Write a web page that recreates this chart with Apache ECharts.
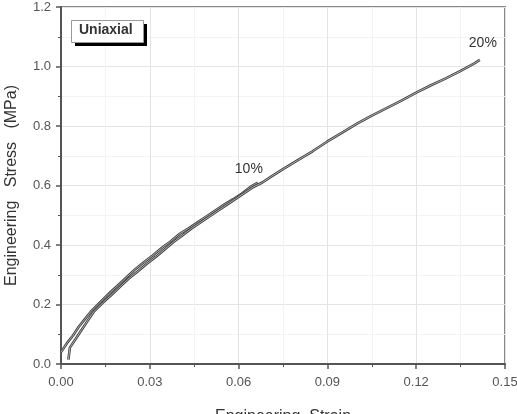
<!DOCTYPE html>
<html>
<head>
<meta charset="utf-8">
<script src="https://cdn.jsdelivr.net/npm/echarts@6/dist/echarts.min.js"></script>
<style>
  html, body { margin: 0; padding: 0; background: #fff; }
  #chart { width: 517px; height: 414px; }
</style>
</head>
<body>
<div id="chart"></div>
<script>
// strain / stress pairs
const load10 = [
    [0, 0.04], [0.002, 0.07], [0.004, 0.095], [0.006, 0.125], [0.008, 0.15],
    [0.010, 0.175], [0.013, 0.205], [0.016, 0.235], [0.019, 0.262], [0.022, 0.29],
    [0.025, 0.318], [0.028, 0.342], [0.031, 0.365], [0.034, 0.39], [0.037, 0.412],
    [0.040, 0.437], [0.043, 0.455], [0.046, 0.475], [0.049, 0.495], [0.052, 0.515],
    [0.055, 0.535], [0.058, 0.553], [0.061, 0.572], [0.064, 0.595], [0.0665, 0.61]
]
const load20 = [
    [0.0025, 0.015], [0.003, 0.055], [0.005, 0.085], [0.007, 0.115], [0.009, 0.145],
    [0.011, 0.175], [0.014, 0.205], [0.017, 0.232], [0.020, 0.26], [0.023, 0.288],
    [0.026, 0.312], [0.029, 0.337], [0.032, 0.36], [0.035, 0.385], [0.038, 0.41],
    [0.041, 0.432], [0.044, 0.455], [0.047, 0.475], [0.050, 0.495], [0.053, 0.515],
    [0.056, 0.535], [0.059, 0.555], [0.062, 0.575], [0.065, 0.595], [0.068, 0.61],
    [0.071, 0.63], [0.075, 0.655], [0.080, 0.685], [0.085, 0.715], [0.090, 0.748],
    [0.095, 0.778], [0.100, 0.808], [0.105, 0.835], [0.110, 0.86], [0.115, 0.885],
    [0.120, 0.912], [0.125, 0.937], [0.130, 0.96], [0.135, 0.985], [0.1395, 1.01],
    [0.1415, 1.022]
]
const curveLabels = ['10%', '20%']

const font = 'Liberation Sans'
const chart = echarts.init(document.getElementById('chart'))

function curve(data, label, offset) {
    const last = data[data.length - 1]
    return [{
        type: 'line',
        data: data,
        showSymbol: false,
        animation: false,
        lineStyle: { color: '#444', width: 2.6 },
        markPoint: {
            symbol: 'circle',
            symbolSize: 1,
            itemStyle: { color: 'rgba(0,0,0,0)' },
            data: [{ coord: last }],
            label: {
                show: true, formatter: label, position: 'top',
                offset: offset,
                fontFamily: font, fontSize: 14, color: '#333'
            }
        }
    }, {
        type: 'line',
        data: data,
        showSymbol: false,
        animation: false,
        lineStyle: { color: '#c8c8c8', width: 0.8 }
    }]
}

chart.setOption({
    backgroundColor: '#fff',
    grid: {
        left: 61, right: 12, top: 7, bottom: 50,
        outerBoundsMode: 'none',
        containLabel: false,
        show: true, borderColor: '#888', borderWidth: 2
    },
    xAxis: {
        type: 'value', min: 0, max: 0.15, interval: 0.03,
        name: 'Engineering  Strain', nameLocation: 'middle', nameGap: 45,
        nameTextStyle: { fontFamily: font, fontSize: 16, color: '#333' },
        axisLine: { lineStyle: { color: '#555', width: 2 } },
        axisTick: { length: 5, lineStyle: { color: '#555', width: 1.5 } },
        minorTick: { show: true, splitNumber: 2, length: 3, lineStyle: { color: '#555' } },
        splitLine: { lineStyle: { color: '#e4e4e4' } },
        minorSplitLine: { show: true, lineStyle: { color: '#f3f3f3' } },
        axisLabel: { fontFamily: font, fontSize: 13, color: '#555', margin: 12, formatter: v => v.toFixed(2) }
    },
    yAxis: {
        type: 'value', min: 0, max: 1.2, interval: 0.2,
        name: 'Engineering   Stress   (MPa)', nameLocation: 'middle', nameGap: 41,
        nameTextStyle: { fontFamily: font, fontSize: 16, color: '#333' },
        axisLine: { lineStyle: { color: '#555', width: 2 } },
        axisTick: { length: 5, lineStyle: { color: '#555', width: 1.5 } },
        minorTick: { show: true, splitNumber: 2, length: 3, lineStyle: { color: '#555' } },
        splitLine: { lineStyle: { color: '#e4e4e4' } },
        minorSplitLine: { show: true, lineStyle: { color: '#f3f3f3' } },
        axisLabel: { fontFamily: font, fontSize: 13, color: '#555', margin: 10, formatter: v => v.toFixed(1) }
    },
    graphic: [
        { type: 'rect', z: 100, left: 75, top: 24, shape: { width: 72, height: 22 }, style: { fill: '#000' } },
        { type: 'rect', z: 101, left: 71, top: 20, shape: { width: 72, height: 22 }, style: { fill: '#fff', stroke: '#999', lineWidth: 1 } },
        { type: 'text', z: 102, left: 79, top: 23, style: { text: 'Uniaxial', font: 'bold 14px "Liberation Sans"', fill: '#333' } }
    ],
    series: [].concat(curve(load10, curveLabels[0], [-9, -1]), curve(load20, curveLabels[1], [3, -4]))
})
</script>
</body>
</html>
